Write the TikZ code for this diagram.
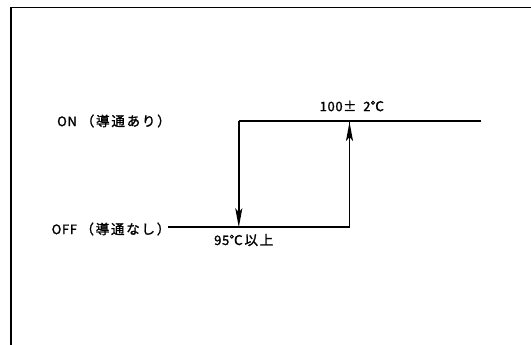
\documentclass[tikz,border=0pt]{standalone}
\usepackage{fontspec}
\setmainfont{Noto Sans CJK JP}[FakeBold=1.5,AutoFakeBold=1.5]
\usetikzlibrary{arrows.meta}
\newcommand\latpart[1]{{\fontsize{13}{14}\selectfont\addfontfeature{LetterSpace=5}#1}}
\newcommand\jppart[1]{{\fontsize{13.5}{14}\selectfont\addfontfeature{LetterSpace=13}#1}}
\begin{document}
\begin{tikzpicture}[x=1pt,y=-1pt,
  lbl/.style={anchor=west,inner sep=0pt},
  wire/.style={line width=1.8pt},
  arr/.style={line width=1.8pt,-{Stealth[length=19pt,width=7pt,inset=4pt]}}]
\useasboundingbox (0,0) rectangle (531,345);
\draw[line width=1.8pt] (531,7.5) -- (11,7.5) -- (11,345);
\coordinate (a) at (238.8,121);
\coordinate (b) at (349.5,122);
\coordinate (c) at (481,121);
\coordinate (d) at (168,227.3);
\coordinate (e) at (238.8,227.3);
\coordinate (f) at (349.5,227.3);
\draw[wire] (a) -- (c);
\draw[wire] (d) -- (f) -- (b);
\draw[arr] (a) -- (e);
\draw[arr] (f) -- (b);
\node[lbl] (on) at (57,121) {\latpart{ON}\hspace{4pt}\jppart{（導通あり）}};
\node[lbl] (off) at (51.5,229) {\latpart{OFF}\hspace{3.5pt}\jppart{（導通なし）}};
\node[lbl] (hi) at (319.5,106) {\latpart{100±}\hspace{7pt}\latpart{2}\jppart{℃}};
\node[lbl] (lo) at (214,240) {\latpart{95}\jppart{℃以上}};
\end{tikzpicture}
\end{document}
